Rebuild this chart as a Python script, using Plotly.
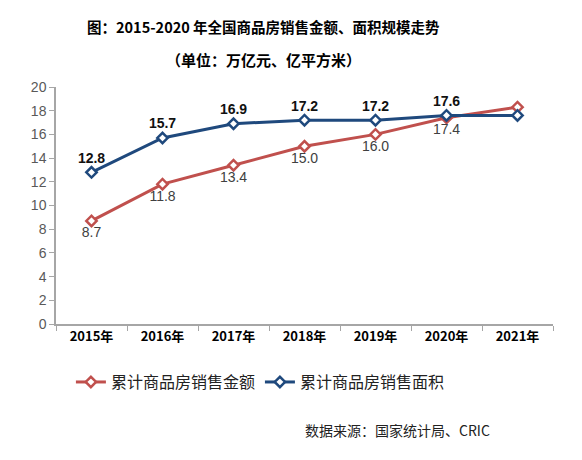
"""
全国商品房销售金额、面积规模走势 2015-2021
"""

import plotly.graph_objects as go

years = ['2015年', '2016年', '2017年', '2018年', '2019年', '2020年', '2021年']
sales_amount = [8.7, 11.8, 13.4, 15.0, 16.0, 17.4, 18.3]
sales_area = [12.8, 15.7, 16.9, 17.2, 17.2, 17.6, 17.6]
amount_labels = ['8.7', '11.8', '13.4', '15.0', '16.0', '17.4', '']
area_labels = ['12.8', '15.7', '16.9', '17.2', '17.2', '17.6', '']
y_ticks = [0, 2, 4, 6, 8, 10, 12, 14, 16, 18, 20]

red = '#C0504D'
blue = '#1F497D'
font = 'Liberation Sans, Noto Sans CJK SC'

fig = go.Figure()

fig.add_trace(go.Scatter(
    x=years, y=sales_amount, name='累计商品房销售金额',
    mode='lines+markers+text',
    line=dict(color=red, width=3),
    marker=dict(symbol='diamond', size=8, color='white', line=dict(color=red, width=2.5)),
    text=amount_labels, textposition='bottom center',
    textfont=dict(size=14, color='#404040', family=font),
))
fig.add_trace(go.Scatter(
    x=years, y=sales_area, name='累计商品房销售面积',
    mode='lines+markers+text',
    line=dict(color=blue, width=3),
    marker=dict(symbol='diamond', size=8, color='white', line=dict(color=blue, width=2.5)),
    text=['<b>' + t + '</b>' if t else '' for t in area_labels], textposition='top center',
    textfont=dict(size=14, color='#111111', family=font),
))

# titles and source note, placed in paper coordinates
fig.add_annotation(text='<b>图：2015-2020 年全国商品房销售金额、面积规模走势</b>',
                   x=0.418, y=1.257, xref='paper', yref='paper', yanchor='middle', showarrow=False,
                   font=dict(size=14.5, color='black', family='Noto Sans CJK SC'))
fig.add_annotation(text='<b>（单位：万亿元、亿平方米）</b>',
                   x=0.418, y=1.114, xref='paper', yref='paper', yanchor='middle', showarrow=False,
                   font=dict(size=15, color='black', family='Noto Sans CJK SC'))
fig.add_annotation(text='数据来源：国家统计局、CRIC',
                   x=0.877, y=-0.447, xref='paper', yref='paper', xanchor='right', yanchor='middle',
                   showarrow=False,
                   font=dict(size=14, color='#222222', family='Noto Sans CJK SC'))

fig.update_layout(
    width=582, height=460,
    margin=dict(l=48, r=37, t=79, b=144),
    plot_bgcolor='white',
    paper_bgcolor='white',
    showlegend=True,
    legend=dict(orientation='h', x=0.03, y=-0.245, xanchor='left', yanchor='middle',
                font=dict(size=16, color='#222222', family='Noto Sans CJK SC'),
                itemwidth=30, tracegroupgap=0),
    xaxis=dict(type='category', range=[-0.5, 6.5], showgrid=False, zeroline=False,
               showline=True, linecolor='#A6A6A6', linewidth=1.5,
               ticks='outside', tickson='boundaries', ticklen=5, tickcolor='#A6A6A6',
               tickfont=dict(size=13, color='black', family='Noto Sans CJK SC', weight='bold')),
    yaxis=dict(range=[0, 20], tickvals=y_ticks, showgrid=False, zeroline=False,
               showline=True, linecolor='#A6A6A6', linewidth=1.5,
               ticks='outside', ticklen=5, tickcolor='#A6A6A6',
               tickfont=dict(size=14, color='#595959', family=font)),
)

fig.write_html('out.html')
